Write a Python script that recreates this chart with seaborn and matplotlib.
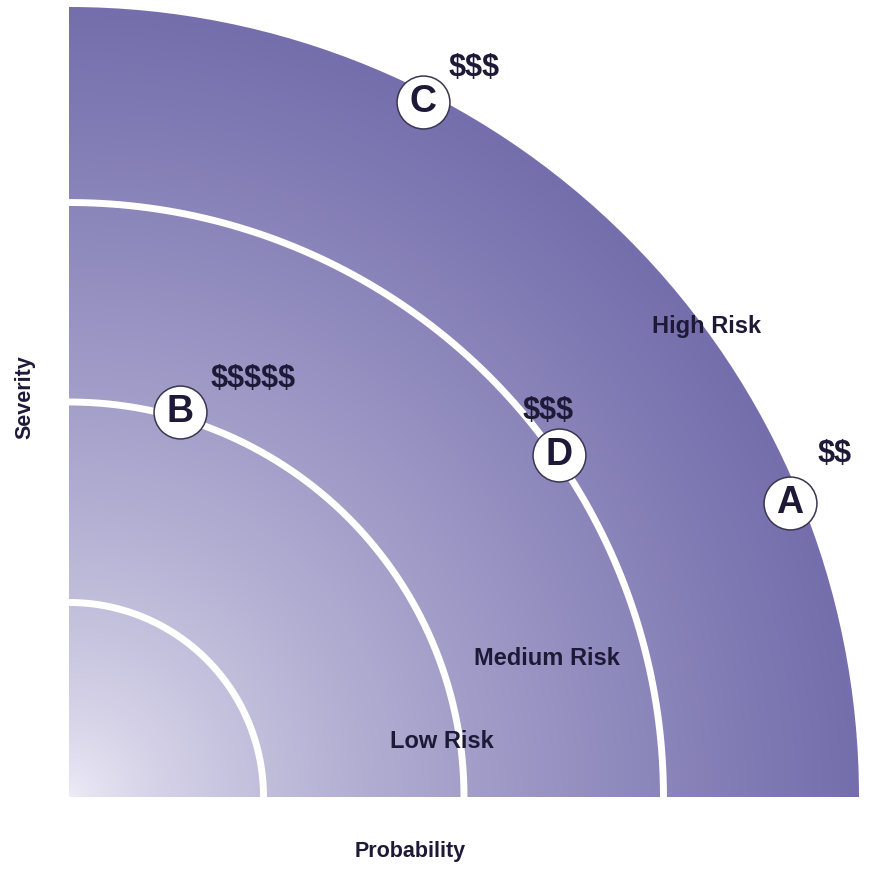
import numpy as np
import pandas as pd
import seaborn as sns
import matplotlib.pyplot as plt
from matplotlib.patches import Wedge

# risk items: probability (x) vs severity (y), units of the risk rings
items = ["A", "B", "C", "D"]
probability = [3.65, 0.56, 1.79, 2.48]
severity = [1.49, 1.95, 3.52, 1.73]
cost = ["$$", "$$$$$", "$$$", "$$$"]

ring_radii = [0.985, 2.0, 3.01]
outer_radius = 4.0
zone_labels = ["Low Risk", "Medium Risk", "High Risk"]
zone_x = [1.89, 2.42, 3.23]
zone_y = [0.28, 0.70, 2.38]

sns.set_style("white")
plt.rcParams['font.family'] = ['Liberation Sans', 'DejaVu Sans']
ink = "#1e1937"

fig = plt.figure(figsize=(8.7, 8.69), dpi=100)
ax = fig.add_axes([0, 0, 1, 1])
ax.set_xlim(-69 / 197.5, 801 / 197.5)
ax.set_ylim(-72 / 197.5, 797 / 197.5)
ax.set_aspect("equal")
ax.axis("off")

# radial gradient, light at the origin, dark purple at the rim
n = 800
g = np.linspace(0, outer_radius, n)
gx, gy = np.meshgrid(g, g)
t = np.clip(np.hypot(gx, gy) / outer_radius, 0, 1) ** 0.7
light = np.array([240, 238, 248]) / 255
dark = np.array([116, 110, 172]) / 255
img = light + t[..., None] * (dark - light)
im = ax.imshow(img, extent=[0, outer_radius, 0, outer_radius], origin="lower",
               interpolation="bilinear", zorder=1)
wedge = Wedge((0, 0), outer_radius, 0, 90, transform=ax.transData)
im.set_clip_path(wedge)

# white ring boundaries
theta = np.linspace(0, np.pi / 2, 200)
for r in ring_radii:
    ring = pd.DataFrame({"x": r * np.cos(theta), "y": r * np.sin(theta)})
    sns.lineplot(data=ring, x="x", y="y", sort=False, color="white",
                 linewidth=5, ax=ax, zorder=2)

# risk items
df = pd.DataFrame({"item": items, "probability": probability,
                   "severity": severity, "cost": cost})
sns.scatterplot(data=df, x="probability", y="severity", s=1450, color="white",
                edgecolor="#3a3550", linewidth=1.1, ax=ax, zorder=3,
                legend=False)

offsets = {"A": (32, 35), "B": (53, 24), "C": (37, 24), "D": (-8, 32)}
for _, row in df.iterrows():
    name = row["item"]
    xy = (row["probability"], row["severity"])
    ax.text(xy[0], xy[1], name, ha="center", va="center",
            fontsize=27, fontweight="heavy", color=ink, zorder=4)
    ax.annotate(row["cost"], xy, xytext=offsets[name],
                textcoords="offset points", ha="center", va="center",
                fontsize=22, fontweight="bold", color=ink, zorder=4,
                parse_math=False)

for lab, x, y in zip(zone_labels, zone_x, zone_y):
    ax.text(x, y, lab, ha="center", va="center", fontsize=17,
            fontweight="bold", color=ink, zorder=4)

ax.text(-0.223, 2.025, "Severity", rotation=90, ha="center", va="center",
        fontsize=15.5, fontweight="bold", color=ink)
ax.text(1.727, -0.278, "Probability", ha="center", va="center",
        fontsize=15.5, fontweight="bold", color=ink)

fig.savefig("out.png", dpi=100)
